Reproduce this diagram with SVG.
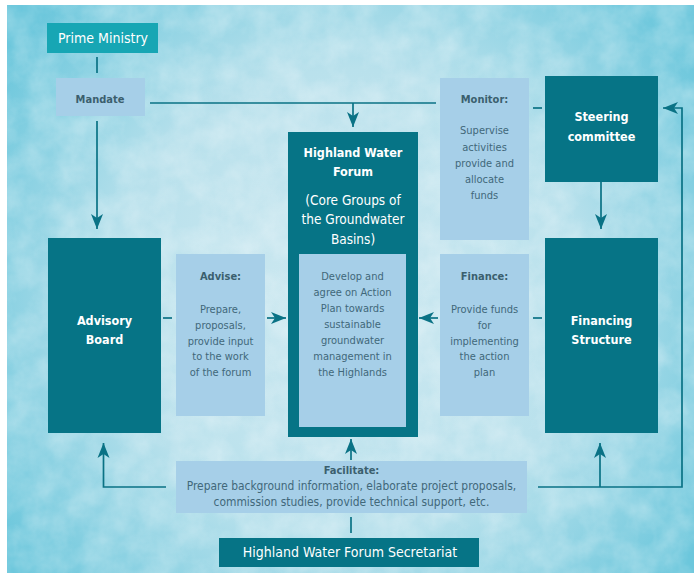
<svg xmlns="http://www.w3.org/2000/svg" width="694" height="577" viewBox="0 0 694 577">
  <defs>
    <radialGradient id="wash" cx="350" cy="300" r="420" gradientUnits="userSpaceOnUse">
      <stop offset="0" stop-color="#cfe9f1"/>
      <stop offset="0.55" stop-color="#b9e1ec"/>
      <stop offset="1" stop-color="#6cc7dc"/>
    </radialGradient>
    <filter id="grain" x="0" y="0" width="100%" height="100%">
      <feTurbulence type="fractalNoise" baseFrequency="0.035" numOctaves="4" seed="7" result="n"/>
      <feColorMatrix in="n" type="matrix" values="0 0 0 0 1  0 0 0 0 1  0 0 0 0 1  0 0 0 -1.4 1.0"/>
      <feComposite in2="SourceGraphic" operator="in"/>
    </filter>
    <marker id="arrow" markerUnits="userSpaceOnUse" markerWidth="16" markerHeight="14" refX="15" refY="7" orient="auto">
      <path d="M0,1 L15,7 L0,13 L4,7 Z" fill="#0a7285"/>
    </marker>
    <style>
      .dark { fill: #067486; }
      .pm { fill: #17a6b4; }
      .light { fill: #a6cfe8; }
      .title { font-family: "DejaVu Sans Condensed", "DejaVu Sans", sans-serif; font-size: 12.5px; font-weight: bold; fill: #ffffff; text-anchor: middle; }
      .wtext { font-family: "DejaVu Sans Condensed", "DejaVu Sans", sans-serif; font-size: 14px; fill: #ffffff; text-anchor: middle; }
      .core { font-size: 13.5px; }
      .lhead { font-family: "DejaVu Sans Condensed", "DejaVu Sans", sans-serif; font-size: 11px; font-weight: bold; fill: #3b5f6e; text-anchor: middle; }
      .ltext { font-family: "DejaVu Sans Condensed", "DejaVu Sans", sans-serif; font-size: 11px; fill: #41687a; text-anchor: middle; }
      .wide { font-size: 11.9px; }
      .conn { fill: none; stroke: #0a7285; stroke-width: 1.7; }
    </style>
  </defs>

  <!-- watercolour backdrop -->
  <rect x="7" y="5" width="687" height="568" fill="url(#wash)"/>
  <rect x="7" y="5" width="687" height="568" fill="#ffffff" opacity="0.35" filter="url(#grain)"/>

  <g id="connectors">
    <line class="conn" x1="97" y1="57" x2="97" y2="73"/>
    <line class="conn" x1="97" y1="121" x2="97" y2="229" marker-end="url(#arrow)"/>
    <line class="conn" x1="150" y1="103" x2="436" y2="103"/>
    <line class="conn" x1="353" y1="103" x2="353" y2="127" marker-end="url(#arrow)"/>
    <line class="conn" x1="533" y1="108" x2="542" y2="108"/>
    <line class="conn" x1="601" y1="182" x2="601" y2="229" marker-end="url(#arrow)"/>
    <line class="conn" x1="163" y1="318" x2="172" y2="318"/>
    <line class="conn" x1="267" y1="318" x2="286" y2="318" marker-end="url(#arrow)"/>
    <line class="conn" x1="438" y1="318" x2="419" y2="318" marker-end="url(#arrow)"/>
    <line class="conn" x1="533" y1="318" x2="542" y2="318"/>
    <path class="conn" d="M166,487 H103.5 V443" marker-end="url(#arrow)"/>
    <line class="conn" x1="351" y1="460" x2="351" y2="439" marker-end="url(#arrow)"/>
    <path class="conn" d="M538,487 H682 V108 H663" marker-end="url(#arrow)"/>
    <line class="conn" x1="600" y1="487" x2="600" y2="443" marker-end="url(#arrow)"/>
    <line class="conn" x1="351" y1="517" x2="351" y2="533"/>
  </g>

  <g id="prime-ministry">
    <rect class="pm" x="47" y="23" width="111" height="30"/>
    <text class="wtext" x="103" y="43">Prime Ministry</text>
  </g>

  <g id="mandate">
    <rect class="light" x="56" y="78" width="89" height="38"/>
    <text class="lhead" x="100" y="103">Mandate</text>
  </g>

  <g id="advisory-board">
    <rect class="dark" x="48" y="238" width="113" height="195"/>
    <text class="title" x="104.5" y="325">Advisory</text>
    <text class="title" x="104.5" y="344">Board</text>
  </g>

  <g id="advise">
    <rect class="light" x="176" y="254" width="89" height="162"/>
    <text class="lhead" x="220.5" y="280">Advise:</text>
    <text class="ltext" x="220.5" y="313">Prepare,</text>
    <text class="ltext" x="220.5" y="329">proposals,</text>
    <text class="ltext" x="220.5" y="345">provide input</text>
    <text class="ltext" x="220.5" y="360">to the work</text>
    <text class="ltext" x="220.5" y="376">of the forum</text>
  </g>

  <g id="highland-water-forum">
    <rect class="dark" x="288" y="132" width="130" height="305"/>
    <text class="title" x="353" y="157">Highland Water</text>
    <text class="title" x="353" y="176">Forum</text>
    <text class="wtext core" x="353" y="205">(Core Groups of</text>
    <text class="wtext core" x="353" y="224">the Groundwater</text>
    <text class="wtext core" x="353" y="244">Basins)</text>
    <rect class="light" x="299" y="254" width="107" height="173"/>
    <text class="ltext" x="352.5" y="280">Develop and</text>
    <text class="ltext" x="352.5" y="296">agree on Action</text>
    <text class="ltext" x="352.5" y="312">Plan towards</text>
    <text class="ltext" x="352.5" y="328">sustainable</text>
    <text class="ltext" x="352.5" y="344">groundwater</text>
    <text class="ltext" x="352.5" y="360">management in</text>
    <text class="ltext" x="352.5" y="376">the Highlands</text>
  </g>

  <g id="monitor">
    <rect class="light" x="440" y="78" width="89" height="162"/>
    <text class="lhead" x="484.5" y="103">Monitor:</text>
    <text class="ltext" x="484.5" y="134">Supervise</text>
    <text class="ltext" x="484.5" y="151">activities</text>
    <text class="ltext" x="484.5" y="167">provide and</text>
    <text class="ltext" x="484.5" y="183">allocate</text>
    <text class="ltext" x="484.5" y="199">funds</text>
  </g>

  <g id="steering-committee">
    <rect class="dark" x="545" y="76" width="113" height="106"/>
    <text class="title" x="601.5" y="121">Steering</text>
    <text class="title" x="601.5" y="141">committee</text>
  </g>

  <g id="finance">
    <rect class="light" x="440" y="254" width="89" height="162"/>
    <text class="lhead" x="484.5" y="280">Finance:</text>
    <text class="ltext" x="484.5" y="313">Provide funds</text>
    <text class="ltext" x="484.5" y="329">for</text>
    <text class="ltext" x="484.5" y="345">implementing</text>
    <text class="ltext" x="484.5" y="360">the action</text>
    <text class="ltext" x="484.5" y="376">plan</text>
  </g>

  <g id="financing-structure">
    <rect class="dark" x="545" y="238" width="113" height="195"/>
    <text class="title" x="601.5" y="325">Financing</text>
    <text class="title" x="601.5" y="344">Structure</text>
  </g>

  <g id="facilitate">
    <rect class="light" x="176" y="461" width="351" height="52"/>
    <text class="lhead" x="351.5" y="474">Facilitate:</text>
    <text class="ltext wide" x="351.5" y="490">Prepare background information, elaborate project proposals,</text>
    <text class="ltext wide" x="351.5" y="506">commission studies, provide technical support, etc.</text>
  </g>

  <g id="secretariat">
    <rect class="dark" x="219" y="538" width="260" height="29"/>
    <text class="wtext" x="350" y="557">Highland Water Forum Secretariat</text>
  </g>
</svg>
